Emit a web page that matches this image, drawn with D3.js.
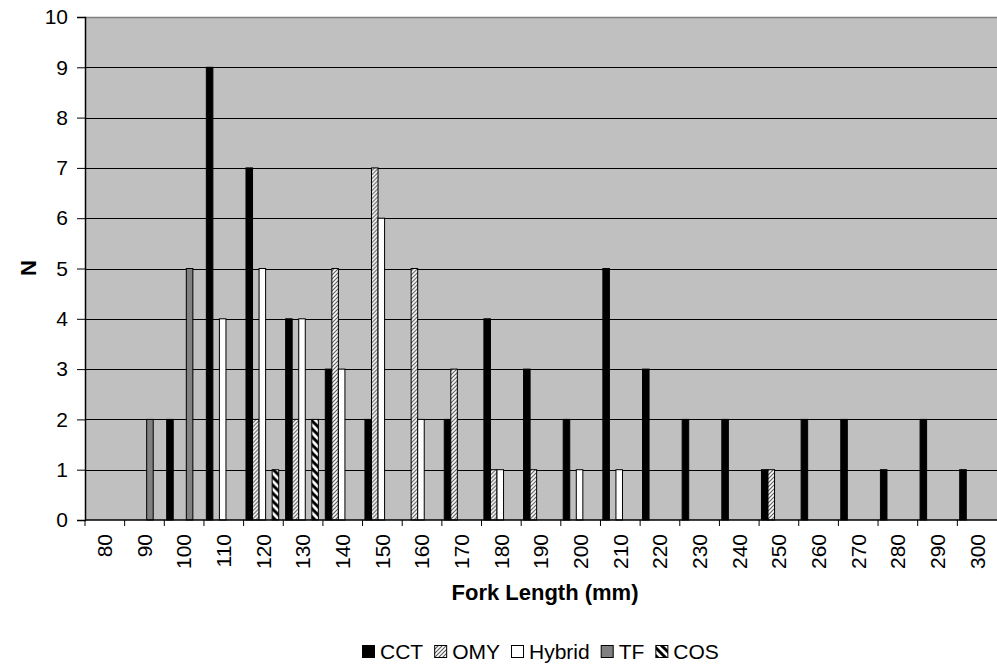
<!DOCTYPE html>
<html>
<head>
<meta charset="utf-8">
<script src="https://cdn.jsdelivr.net/npm/d3@7.9.0/dist/d3.min.js"></script>
<style>
  body { margin: 0; background: #fff; }
  svg text { font-family: Arial, "Liberation Sans", sans-serif; fill: #000; }
</style>
</head>
<body>
<svg id="chart" width="997" height="666"></svg>
<script>
// fork length classes (mm)
const lengths = [80, 90, 100, 110, 120, 130, 140, 150, 160, 170, 180, 190, 200,
                 210, 220, 230, 240, 250, 260, 270, 280, 290, 300];
const species = ['CCT', 'OMY', 'Hybrid', 'TF', 'COS'];

// counts per class, same order as lengths
const cct    = [0, 0, 2, 9, 7, 4, 3, 2, 0, 2, 4, 3, 2, 5, 3, 2, 2, 1, 2, 2, 1, 2, 1];
const omy    = [0, 0, 0, 0, 2, 2, 5, 7, 5, 3, 1, 1, 0, 0, 0, 0, 0, 1, 0, 0, 0, 0, 0];
const hybrid = [0, 0, 0, 4, 5, 4, 3, 6, 2, 0, 1, 0, 1, 1, 0, 0, 0, 0, 0, 0, 0, 0, 0];
const tf     = [0, 2, 5, 0, 0, 0, 0, 0, 0, 0, 0, 0, 0, 0, 0, 0, 0, 0, 0, 0, 0, 0, 0];
const cos    = [0, 0, 0, 0, 1, 2, 0, 0, 0, 0, 0, 0, 0, 0, 0, 0, 0, 0, 0, 0, 0, 0, 0];
const yTicks = [0, 1, 2, 3, 4, 5, 6, 7, 8, 9, 10];

const seriesValues = { CCT: cct, OMY: omy, Hybrid: hybrid, TF: tf, COS: cos };

const svg = d3.select('#chart');
const plotLeft = 85, plotRight = 997, plotTop = 17, plotBottom = 520;

// hatch patterns
const defs = svg.append('defs');
let pOmy = defs.append('pattern').attr('id', 'omy')
  .attr('patternUnits', 'userSpaceOnUse').attr('width', 4).attr('height', 4);
pOmy.append('rect').attr('width', 4).attr('height', 4).attr('fill', '#fff');
pOmy.append('path').attr('d', 'M-1,1 L1,-1 M0,4 L4,0 M3,5 L5,3')
  .attr('stroke', '#555').attr('stroke-width', 1.1);

let pCos = defs.append('pattern').attr('id', 'cos')
  .attr('patternUnits', 'userSpaceOnUse').attr('width', 8).attr('height', 8);
pCos.append('rect').attr('width', 8).attr('height', 8).attr('fill', '#fff');
pCos.append('path').attr('d', 'M-2,-2 L10,10 M-2,6 L2,10 M6,-2 L10,2')
  .attr('stroke', '#000').attr('stroke-width', 3);

const fills = { CCT: '#000', OMY: 'url(#omy)', Hybrid: '#fff', TF: '#808080', COS: 'url(#cos)' };

let x = d3.scaleBand().domain(lengths).range([plotLeft, plotRight]);
let bw = x.bandwidth();
let xs = d3.scaleBand().domain(species).range([bw * 0.06, bw * 0.885]);
let y = d3.scaleLinear().domain([0, 10]).range([plotBottom, plotTop]);

// plot area
svg.append('rect')
  .attr('x', plotLeft).attr('y', plotTop)
  .attr('width', plotRight - plotLeft).attr('height', plotBottom - plotTop)
  .attr('fill', '#c0c0c0');
svg.append('line')
  .attr('x1', plotLeft).attr('x2', plotRight).attr('y1', plotTop + 0.5).attr('y2', plotTop + 0.5)
  .attr('stroke', '#808080').attr('stroke-width', 1.5);

// gridlines
svg.append('g').selectAll('line')
  .data(yTicks.filter(d => d > 0 && d < 10))
  .join('line')
  .attr('x1', plotLeft).attr('x2', plotRight)
  .attr('y1', d => Math.round(y(d)) + 0.5).attr('y2', d => Math.round(y(d)) + 0.5)
  .attr('stroke', '#000').attr('stroke-width', 1);

// bars
let groups = svg.append('g').selectAll('g')
  .data(lengths)
  .join('g')
  .attr('transform', d => `translate(${x(d)},0)`);

groups.selectAll('rect')
  .data((d, i) => species.map(s => ({ s: s, v: seriesValues[s][i] })).filter(e => e.v > 0))
  .join('rect')
  .attr('x', e => xs(e.s))
  .attr('y', e => y(e.v))
  .attr('width', xs.bandwidth())
  .attr('height', e => y(0) - y(e.v))
  .attr('fill', e => fills[e.s])
  .attr('stroke', '#000').attr('stroke-width', 1);

// y axis
let yAxis = d3.axisLeft(y).tickValues(yTicks).tickSize(8).tickPadding(9);
let gy = svg.append('g').attr('transform', `translate(${plotLeft},0)`).call(yAxis);
gy.select('.domain').attr('stroke', '#000').attr('stroke-width', 1.5);
gy.selectAll('.tick line').attr('stroke', '#000');
gy.selectAll('text').style('font-size', '21px').attr('font-family', 'Arial');

// x axis with ticks on class boundaries
let gx = svg.append('g').attr('transform', `translate(0,${plotBottom})`);
gx.append('line').attr('x1', plotLeft).attr('x2', plotRight)
  .attr('stroke', '#000').attr('stroke-width', 1.5);
gx.selectAll('.tk')
  .data(lengths)
  .join('line')
  .attr('class', 'tk')
  .attr('x1', d => x(d)).attr('x2', d => x(d))
  .attr('y1', 0).attr('y2', 6)
  .attr('stroke', '#000');
gx.selectAll('.lbl')
  .data(lengths)
  .join('text')
  .attr('class', 'lbl')
  .attr('transform', d => `translate(${x(d) + bw / 2},14) rotate(-90)`)
  .attr('text-anchor', 'end')
  .attr('dy', '0.35em')
  .style('font-size', '21px')
  .text(d => d);

// axis titles
svg.append('text')
  .attr('x', 545).attr('y', 600)
  .attr('text-anchor', 'middle')
  .style('font-size', '22px').style('font-weight', 'bold')
  .text('Fork Length (mm)');

svg.append('text')
  .attr('transform', 'translate(36,268) rotate(-90)')
  .attr('text-anchor', 'middle')
  .style('font-size', '22px').style('font-weight', 'bold')
  .text('N');

// legend
let legend = svg.append('g');
let lx = 362;
species.forEach(s => {
  legend.append('rect')
    .attr('x', lx + 0.5).attr('y', 645.5)
    .attr('width', 12).attr('height', 12)
    .attr('fill', fills[s]).attr('stroke', '#000');
  let t = legend.append('text')
    .attr('x', lx + 18).attr('y', 659)
    .style('font-size', '21px')
    .text(s);
  lx += 18 + t.node().getComputedTextLength() + 11;
});
</script>
</body>
</html>
